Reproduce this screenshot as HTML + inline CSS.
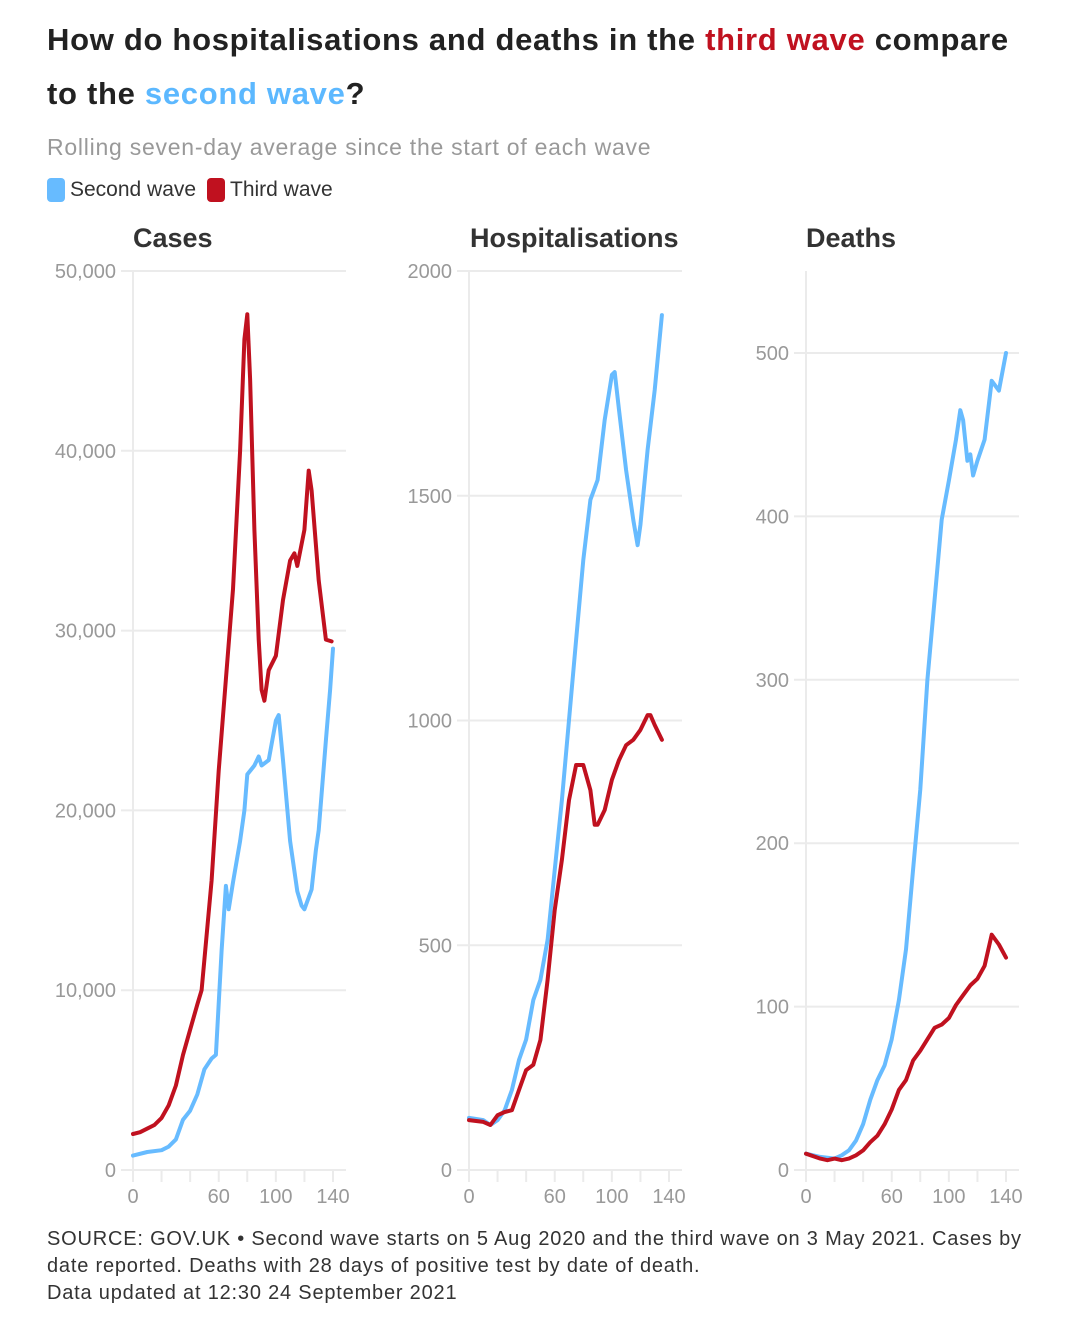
<!DOCTYPE html>
<html><head><meta charset="utf-8">
<style>
body{margin:0;background:#fff;font-family:"Liberation Sans",sans-serif;}
#wrap{position:relative;width:1080px;height:1342px;overflow:hidden;}
.t{position:absolute;left:47px;font-weight:bold;font-size:31px;color:#222;letter-spacing:0.7px;white-space:nowrap;}
.sub{position:absolute;left:47px;top:134px;font-size:23px;color:#999;letter-spacing:0.75px;white-space:nowrap;}
.leg{position:absolute;top:178px;font-size:21px;color:#333;}
.sw{position:absolute;top:178px;width:18px;height:24px;border-radius:4px;}
.foot{position:absolute;left:47px;top:1226px;font-size:20px;color:#333;line-height:27px;letter-spacing:0.8px;white-space:nowrap;}
</style></head><body>
<div id="wrap">
<div class="t" style="top:22px">How do hospitalisations and deaths in the <span style="color:#c0111f">third wave</span> compare</div>
<div class="t" style="top:76px">to the <span style="color:#5cb8ff">second wave</span>?</div>
<div class="sub">Rolling seven-day average since the start of each wave</div>
<div class="sw" style="left:47px;background:#67bbff"></div>
<div class="leg" style="left:70px">Second wave</div>
<div class="sw" style="left:207px;background:#c0111f"></div>
<div class="leg" style="left:230px">Third wave</div>
<svg id="svg" width="1080" height="1342" style="position:absolute;left:0;top:0"></svg>
<div class="foot">SOURCE: GOV.UK • Second wave starts on 5 Aug 2020 and the third wave on 3 May 2021. Cases by<br>date reported. Deaths with 28 days of positive test by date of death.<br>Data updated at 12:30 24 September 2021</div>
</div>
<script>
const casesDays2=[0,10,20,25,30,35,40,45,50,55,58,62,65,67,70,75,78,80,85,88,90,95,100,102,105,110,115,118,120,125,128,130,135,138,140];
const casesSecond=[800,1000,1100,1300,1700,2800,3300,4200,5600,6200,6400,12200,15800,14500,16000,18300,20000,22000,22500,23000,22500,22800,25000,25300,22800,18300,15500,14700,14500,15600,17800,18900,23900,26700,29000];
const casesDays3=[0,5,10,15,20,25,30,35,40,45,48,50,55,60,65,70,75,78,80,82,85,88,90,92,95,100,105,110,113,115,120,123,125,130,135,139];
const casesThird=[2000,2100,2300,2500,2900,3600,4700,6400,7800,9200,10000,11700,16100,22200,27300,32300,40000,46200,47600,44000,35600,29500,26700,26100,27800,28600,31700,33900,34300,33600,35600,38900,37800,32800,29500,29400];
const hospDays2=[0,10,15,20,25,30,35,40,45,50,55,60,65,70,75,80,85,90,95,100,102,105,110,115,118,120,125,130,135];
const hospSecond=[116,111,100,111,133,178,245,290,378,423,512,667,823,1001,1179,1357,1491,1535,1669,1769,1775,1691,1557,1446,1390,1435,1602,1735,1902];
const hospDays3=[0,10,15,20,25,30,35,40,45,50,55,60,65,70,75,80,85,88,90,95,100,105,110,115,120,125,127,130,135];
const hospThird=[111,107,100,122,129,133,178,222,234,289,423,578,690,823,901,901,845,768,768,801,868,912,945,957,979,1012,1012,990,957];
const deathDays2=[0,10,20,25,30,35,40,45,50,55,60,65,70,75,80,85,90,95,100,105,108,110,113,115,117,120,125,130,135,140];
const deathSecond=[10,8,7,9,12,18,28,43,55,64,80,104,135,184,233,300,349,398,422,447,465,459,434,438,425,434,447,483,477,500];
const deathDays3=[0,10,15,20,25,30,35,40,45,50,55,60,65,70,75,80,85,90,95,100,105,110,115,120,125,130,135,140];
const deathThird=[10,7,6,7,6,7,9,12,17,21,28,37,49,55,67,73,80,87,89,93,101,107,113,117,125,144,138,130];
const xTicks=[0,20,40,60,80,100,120,140];
const xTickLabels=["0","","","60","","100","","140"];
const casesTicks=[0,10000,20000,30000,40000,50000];
const casesTickLabels=["0","10,000","20,000","30,000","40,000","50,000"];
const hospTicks=[0,500,1000,1500,2000];
const hospTickLabels=["0","500","1000","1500","2000"];
const deathTicks=[0,100,200,300,400,500];
const deathTickLabels=["0","100","200","300","400","500"];

const NS="http://www.w3.org/2000/svg";
const svg=document.getElementById('svg');
function mk(tag,attrs,parent){const e=document.createElementNS(NS,tag);for(const k in attrs)e.setAttribute(k,attrs[k]);(parent||svg).appendChild(e);return e;}
function panel(name,title,titleX,x0,yMax,ticks,labels,s2d,s2,s3d,s3){
  const g=mk('g',{});
  
  
  const xw=200,y0=1170,yTop=271,ytopVal=yMax;
  const X=d=>x0+d/140*xw;
  const Y=v=>y0-v/ytopVal*(y0-yTop);
  const tt=mk('text',{x:titleX,y:247,'font-size':27,'font-weight':'bold',fill:'#333'},g);tt.textContent=title;
  
  
  ticks.forEach((t,i)=>{
    const gl=mk('line',{x1:x0-12,x2:x0+213,y1:Y(t),y2:Y(t),stroke:'#ebebeb','stroke-width':2},g);
    
    
    const lb=mk('text',{x:x0-17,y:Y(t)+7,'font-size':20,fill:'#999','text-anchor':'end'},g);lb.textContent=labels[i];
    
    
  });
  const ya=mk('line',{x1:x0,x2:x0,y1:yTop,y2:y0+12,stroke:'#ebebeb','stroke-width':2},g);
  
  
  xTicks.forEach((t,i)=>{
    const tk=mk('line',{x1:X(t),x2:X(t),y1:y0,y2:y0+12,stroke:'#ebebeb','stroke-width':2},g);
    
    
    if(xTickLabels[i]){const lb=mk('text',{x:X(t),y:1203,'font-size':20,fill:'#999','text-anchor':'middle'},g);lb.textContent=xTickLabels[i];
    
    }
  });
  [[s2d,s2,'#67bbff','second-wave'],[s3d,s3,'#c0111f','third-wave']].forEach(([ds,vs,c,n])=>{
    const p=mk('path',{d:vs.map((v,i)=>(i?'L':'M')+X(ds[i]).toFixed(1)+','+Y(v).toFixed(1)).join(''),fill:'none',stroke:c,'stroke-width':4,'stroke-linejoin':'round','stroke-linecap':'round'},g);
    
    
  });
}
panel('cases','Cases',133,133,50000,casesTicks,casesTickLabels,casesDays2,casesSecond,casesDays3,casesThird);
panel('hospitalisations','Hospitalisations',470,469,2000,hospTicks,hospTickLabels,hospDays2,hospSecond,hospDays3,hospThird);
panel('deaths','Deaths',806,806,500*(1170-271)/(1170-353),deathTicks,deathTickLabels,deathDays2,deathSecond,deathDays3,deathThird);
</script>
</body></html>
